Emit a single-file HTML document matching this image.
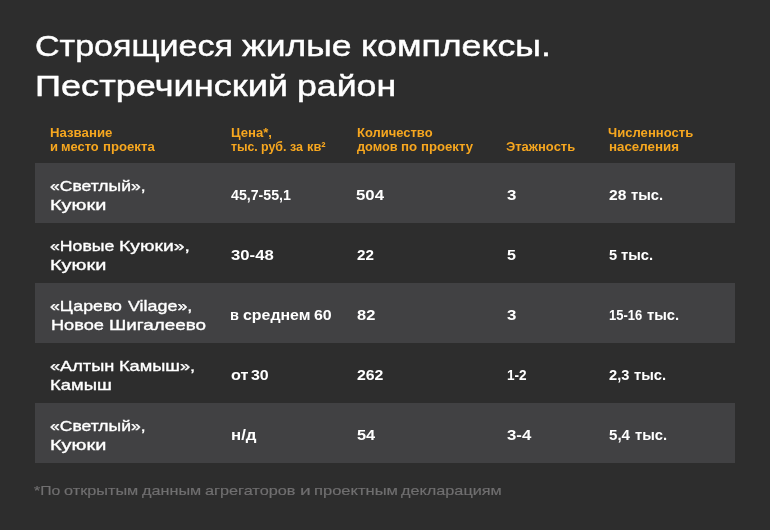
<!DOCTYPE html>
<html lang="ru"><head><meta charset="utf-8"><title>Строящиеся жилые комплексы</title>
<style>
html,body{margin:0;padding:0}
body{width:770px;height:530px;background:#2d2d2d;position:relative;overflow:hidden;font-family:"Liberation Sans",sans-serif}
.r{position:absolute;left:35px;width:700px;height:60px;background:#414143}
#txt{position:absolute;left:0;top:0;width:770px;height:530px;will-change:transform}
span{position:absolute;white-space:nowrap;line-height:1;transform-origin:0 0}
.t{font-size:29.4px;font-weight:400;color:#ffffff;-webkit-text-stroke:0.45px #ffffff;}
.h{font-size:12.25px;font-weight:700;color:#f7a71f;}
.n{font-size:15.0px;font-weight:400;color:#ffffff;-webkit-text-stroke:0.35px #ffffff;}
.v{font-size:14.2px;font-weight:700;color:#ffffff;}
.f{font-size:13.6px;font-weight:400;color:#706f70;-webkit-text-stroke:0.18px #706f70;}
</style></head><body>
<div class="r" style="top:163px"></div>
<div class="r" style="top:283px"></div>
<div class="r" style="top:403px"></div>
<div id="txt">
<span class="t" style="left:34.52px;top:30.79px;transform:scaleX(1.1579)">Строящиеся</span>
<span class="t" style="left:241.80px;top:30.79px;transform:scaleX(1.2064)">жилые</span>
<span class="t" style="left:360.99px;top:30.79px;transform:scaleX(1.2152)">комплексы.</span>
<span class="t" style="left:34.83px;top:70.79px;transform:scaleX(1.2302)">Пестречинский</span>
<span class="t" style="left:297.09px;top:70.79px;transform:scaleX(1.2131)">район</span>
<span class="h" style="left:49.62px;top:126.84px;transform:scaleX(1.0784)">Название</span>
<span class="h" style="left:49.80px;top:141.04px;transform:scaleX(1.0618)">и</span>
<span class="h" style="left:61.19px;top:141.04px;transform:scaleX(1.0515)">место</span>
<span class="h" style="left:103.17px;top:141.04px;transform:scaleX(1.0749)">проекта</span>
<span class="h" style="left:230.63px;top:126.84px;transform:scaleX(1.0711)">Цена*,</span>
<span class="h" style="left:231.07px;top:141.04px;transform:scaleX(1.0028)">тыс.</span>
<span class="h" style="left:260.85px;top:141.04px;transform:scaleX(1.0114)">руб.</span>
<span class="h" style="left:289.86px;top:141.04px;transform:scaleX(1.0197)">за</span>
<span class="h" style="left:306.81px;top:141.04px;transform:scaleX(1.0507)">кв²</span>
<span class="h" style="left:356.64px;top:126.84px;transform:scaleX(1.0583)">Количество</span>
<span class="h" style="left:356.84px;top:141.04px;transform:scaleX(1.0409)">домов</span>
<span class="h" style="left:401.16px;top:141.04px;transform:scaleX(1.0826)">по</span>
<span class="h" style="left:420.77px;top:141.04px;transform:scaleX(1.0733)">проекту</span>
<span class="h" style="left:506.33px;top:141.04px;transform:scaleX(1.0600)">Этажность</span>
<span class="h" style="left:608.36px;top:126.84px;transform:scaleX(1.0667)">Численность</span>
<span class="h" style="left:608.76px;top:141.04px;transform:scaleX(1.0875)">населения</span>
<span class="f" style="left:34.15px;top:484.05px;transform:scaleX(1.1597)">*По</span>
<span class="f" style="left:64.03px;top:484.05px;transform:scaleX(1.1958)">открытым</span>
<span class="f" style="left:141.79px;top:484.05px;transform:scaleX(1.1925)">данным</span>
<span class="f" style="left:205.01px;top:484.05px;transform:scaleX(1.1973)">агрегаторов</span>
<span class="f" style="left:300.00px;top:484.05px;transform:scaleX(1.4094)">и</span>
<span class="f" style="left:313.74px;top:484.05px;transform:scaleX(1.2165)">проектным</span>
<span class="f" style="left:401.19px;top:484.05px;transform:scaleX(1.1953)">декларациям</span>
<span class="n" style="left:49.81px;top:178.24px;transform:scaleX(1.1681)">«Светлый»,</span>
<span class="n" style="left:50.09px;top:197.14px;transform:scaleX(1.3265)">Куюки</span>
<span class="v" style="left:230.98px;top:188.01px;transform:scaleX(0.9997)">45,7-55,1</span>
<span class="v" style="left:356.38px;top:188.01px;transform:scaleX(1.1825)">504</span>
<span class="v" style="left:506.51px;top:188.01px;transform:scaleX(1.1890)">3</span>
<span class="v" style="left:608.61px;top:188.01px;transform:scaleX(1.0975)">28</span>
<span class="v" style="left:630.59px;top:188.01px;transform:scaleX(1.0399)">тыс.</span>
<span class="n" style="left:50.00px;top:238.24px;transform:scaleX(1.1774)">«Новые</span>
<span class="n" style="left:118.92px;top:238.24px;transform:scaleX(1.2913)">Куюки»,</span>
<span class="n" style="left:50.09px;top:257.14px;transform:scaleX(1.3265)">Куюки</span>
<span class="v" style="left:230.61px;top:248.01px;transform:scaleX(1.1772)">30-48</span>
<span class="v" style="left:356.62px;top:248.01px;transform:scaleX(1.0714)">22</span>
<span class="v" style="left:506.61px;top:248.01px;transform:scaleX(1.1286)">5</span>
<span class="v" style="left:609.07px;top:248.01px;transform:scaleX(1.0286)">5</span>
<span class="v" style="left:621.49px;top:248.01px;transform:scaleX(1.0399)">тыс.</span>
<span class="n" style="left:50.10px;top:298.24px;transform:scaleX(1.1805)">«Царево</span>
<span class="n" style="left:127.82px;top:298.24px;transform:scaleX(1.1927)">Vilage»,</span>
<span class="n" style="left:50.58px;top:317.14px;transform:scaleX(1.2114)">Новое</span>
<span class="n" style="left:108.55px;top:317.14px;transform:scaleX(1.2569)">Шигалеево</span>
<span class="v" style="left:230.48px;top:308.01px;transform:scaleX(1.0244)">в</span>
<span class="v" style="left:243.40px;top:308.01px;transform:scaleX(1.1209)">среднем</span>
<span class="v" style="left:314.44px;top:308.01px;transform:scaleX(1.1241)">60</span>
<span class="v" style="left:356.75px;top:308.01px;transform:scaleX(1.1594)">82</span>
<span class="v" style="left:506.51px;top:308.01px;transform:scaleX(1.1890)">3</span>
<span class="v" style="left:608.69px;top:308.01px;transform:scaleX(0.9173)">15-16</span>
<span class="v" style="left:646.69px;top:308.01px;transform:scaleX(1.0399)">тыс.</span>
<span class="n" style="left:49.99px;top:358.24px;transform:scaleX(1.2117)">«Алтын</span>
<span class="n" style="left:118.58px;top:358.24px;transform:scaleX(1.2138)">Камыш»,</span>
<span class="n" style="left:50.27px;top:377.14px;transform:scaleX(1.2298)">Камыш</span>
<span class="v" style="left:230.89px;top:368.01px;transform:scaleX(1.1448)">от</span>
<span class="v" style="left:251.14px;top:368.01px;transform:scaleX(1.1238)">30</span>
<span class="v" style="left:356.50px;top:368.01px;transform:scaleX(1.1165)">262</span>
<span class="v" style="left:506.86px;top:368.01px;transform:scaleX(0.9580)">1-2</span>
<span class="v" style="left:608.64px;top:368.01px;transform:scaleX(1.0306)">2,3</span>
<span class="v" style="left:633.89px;top:368.01px;transform:scaleX(1.0399)">тыс.</span>
<span class="n" style="left:49.81px;top:418.24px;transform:scaleX(1.1681)">«Светлый»,</span>
<span class="n" style="left:50.09px;top:437.14px;transform:scaleX(1.3265)">Куюки</span>
<span class="v" style="left:230.90px;top:428.01px;transform:scaleX(1.1859)">н/д</span>
<span class="v" style="left:356.50px;top:428.01px;transform:scaleX(1.1537)">54</span>
<span class="v" style="left:506.51px;top:428.01px;transform:scaleX(1.1816)">3-4</span>
<span class="v" style="left:609.05px;top:428.01px;transform:scaleX(1.0636)">5,4</span>
<span class="v" style="left:634.89px;top:428.01px;transform:scaleX(1.0399)">тыс.</span>
</div>
</body></html>
